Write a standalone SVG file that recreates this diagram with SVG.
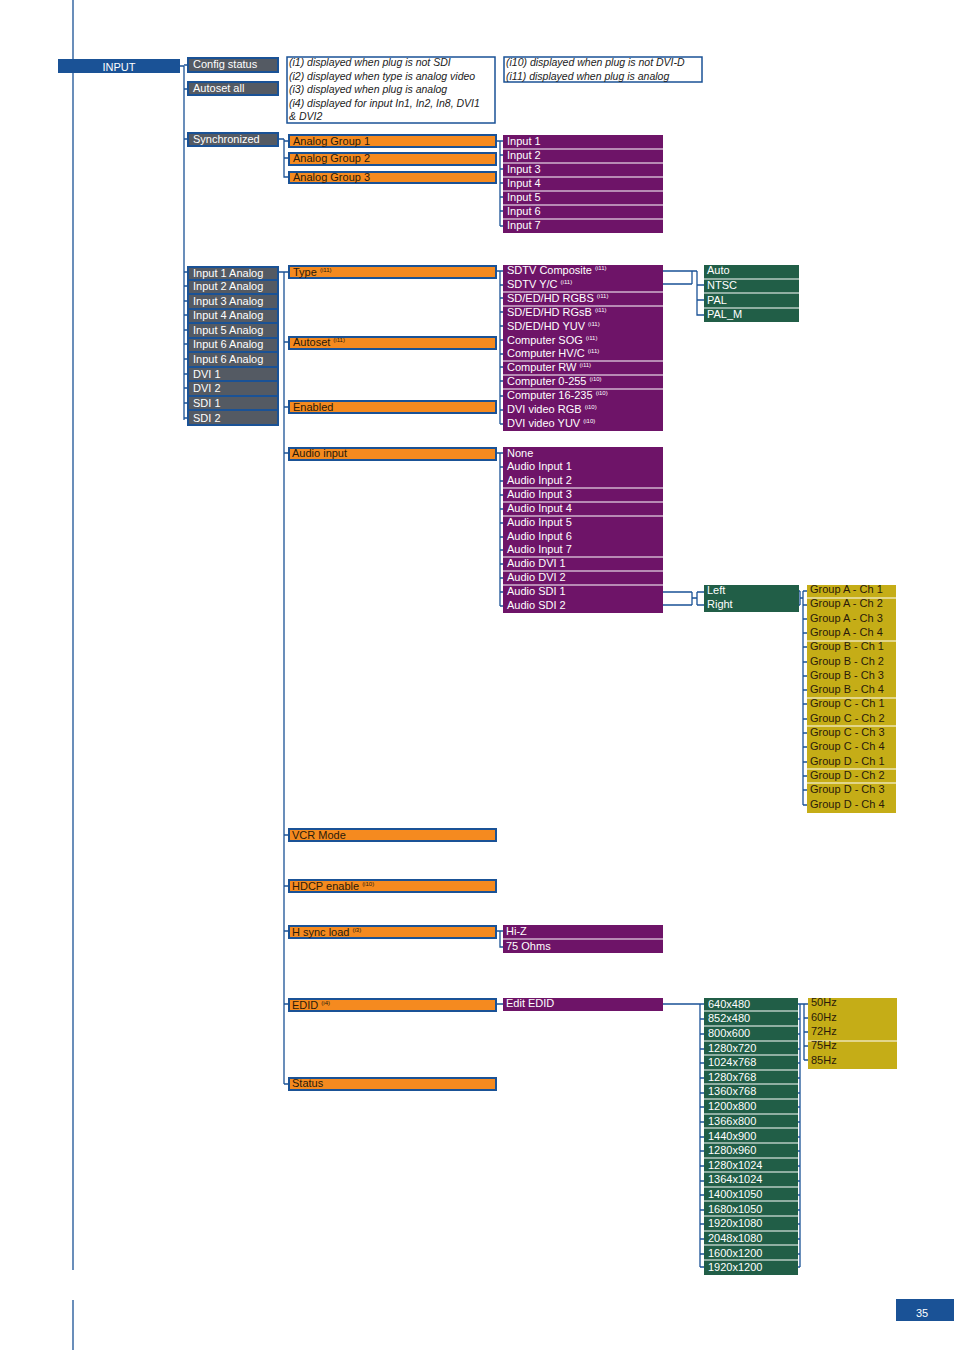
<svg xmlns="http://www.w3.org/2000/svg" width="954" height="1350" viewBox="0 0 954 1350">
<style>
text{font-family:"Liberation Sans",Arial,sans-serif;font-size:11px}
.w{fill:#fff}.d{fill:#2a1a0a}
.ln{stroke:#1a5296;stroke-width:1.3;fill:none}
.g{fill:#545a63;stroke:#1a5296;stroke-width:2}
.o{fill:#f58a1f;stroke:#1a5296;stroke-width:2}
.p{fill:#6e1468}.gr{fill:#215e47}.y{fill:#c5ad17}
.sep{stroke:#fff;stroke-width:1.2}
.note{fill:#fff;stroke:#1a5296;stroke-width:1.5}
.i{font-style:italic;fill:#222;font-size:10.5px}
.s{font-size:6px}
</style>
<g id="connectors" class="ln">
<path d="M73 0V1270M73 1300V1350"/>
<path d="M180 66H184M184 66V420M184 65H187M184 89H187M184 139H187M184 272H187M184 286H187M184 301H187M184 315H187M184 330H187M184 344H187M184 359H187M184 374H187M184 388H187M184 403H187M184 418H187"/>
<path d="M278 139H284M284 139V177H288M284 158H288M284 141H288"/>
<path d="M278 272H284M284 272V1084M284 272H288M284 342H288M284 407H288M284 453H288M284 835H288M284 886H288M284 931H288M284 1004H288M284 1084H288"/>
<path d="M497 141H500M500 141V226M500 141H503M500 155H503M500 169H503M500 183H503M500 197H503M500 211H503M500 226H503"/>
<path d="M497 271H500M500 271V424M500 271H503M500 285H503M500 298H503M500 312H503M500 326H503M500 340H503M500 354H503M500 367H503M500 381H503M500 396H503M500 410H503M500 424H503"/>
<path d="M663 271H692M663 284H692M692 271V284M692 271H697M697 271V315H704M697 285H704M697 300H704"/>
<path d="M497 453H500M500 453V606M500 453H503M500 467H503M500 481H503M500 495H503M500 509H503M500 523H503M500 537H503M500 550H503M500 564H503M500 578H503M500 592H503M500 606H503"/>
<path d="M663 592H692M663 605H692M692 592V605M692 598H697M697 592V605M697 592H704M697 605H704"/>
<path d="M798 591H800M798 605H800M800 591V605M800 598H803M803 591V805M803 591H807M803 605H807M803 619H807M803 633H807M803 647H807M803 662H807M803 676H807M803 690H807M803 704H807M803 719H807M803 733H807M803 747H807M803 762H807M803 776H807M803 790H807M803 805H807"/>
<path d="M497 931H500M500 931V947H503M500 931H503"/>
<path d="M497 1004H503M663 1004H700M700 1004V1267M700 1004H704M700 1019H704M700 1034H704M700 1049H704M700 1063H704M700 1078H704M700 1093H704M700 1107H704M700 1122H704M700 1137H704M700 1151H704M700 1166H704M700 1181H704M700 1195H704M700 1210H704M700 1224H704M700 1239H704M700 1254H704M700 1267H704"/>
<path d="M797 1004H800M797 1019H800M797 1034H800M797 1049H800M797 1063H800M797 1078H800M797 1093H800M797 1107H800M797 1122H800M797 1137H800M797 1151H800M797 1166H800M797 1181H800M797 1195H800M797 1210H800M797 1224H800M797 1239H800M797 1254H800M797 1267H800M800 1004V1267M800 1004H804M804 1004V1060M804 1004H808M804 1018H808M804 1032H808M804 1046H808M804 1060H808"/>
</g>
<g id="input"><rect x="58" y="59" width="122" height="14" fill="#1a5296"/><text x="119" y="71" class="w" text-anchor="middle" font-size="12.5">INPUT</text></g>
<g id="config-status"><rect class="g" x="188" y="58" width="90" height="14"/><text x="193" y="68" class="w">Config status</text></g>
<g id="autoset-all"><rect class="g" x="188" y="82" width="90" height="13"/><text x="193" y="92" class="w">Autoset all</text></g>
<g id="synchronized"><rect class="g" x="188" y="133" width="90" height="13"/><text x="193" y="143" class="w">Synchronized</text></g>
<g id="note1"><rect class="note" x="287" y="57" width="208" height="66"/>
<text class="i" x="289" y="66">(i1) displayed when plug is not SDI</text>
<text class="i" x="289" y="80">(i2) displayed when type is analog video</text>
<text class="i" x="289" y="93">(i3) displayed when plug is analog</text>
<text class="i" x="289" y="107">(i4) displayed for input In1, In2, In8, DVI1</text>
<text class="i" x="289" y="120">&amp; DVI2</text></g>
<g id="note2"><rect class="note" x="504" y="57" width="198" height="25"/>
<text class="i" x="506" y="66">(i10) displayed when plug is not DVI-D</text>
<text class="i" x="506" y="80">(i11) displayed when plug is analog</text></g>
<g id="analog-groups">
<rect class="o" x="289" y="135" width="207" height="12"/><text x="293" y="145" class="d">Analog Group 1</text>
<rect class="o" x="289" y="153" width="207" height="12"/><text x="293" y="162" class="d">Analog Group 2</text>
<rect class="o" x="289" y="172" width="207" height="11"/><text x="293" y="181" class="d">Analog Group 3</text></g>
<g id="inputs-1-7"><rect class="p" x="503" y="135" width="160" height="98"/>
<path class="sep" d="M503 149H663M503 163H663M503 177H663M503 191H663M503 205H663M503 219H663"/>
<text class="w" x="507" y="145">Input 1</text><text class="w" x="507" y="159">Input 2</text><text class="w" x="507" y="173">Input 3</text><text class="w" x="507" y="187">Input 4</text><text class="w" x="507" y="201">Input 5</text><text class="w" x="507" y="215">Input 6</text><text class="w" x="507" y="229">Input 7</text></g>
<g id="input-list"><rect class="g" x="188" y="267" width="90" height="158"/>
<path d="M188 280H278M188 294H278M188 309H278M188 323H278M188 338H278M188 352H278M188 367H278M188 381H278M188 396H278M188 410H278" stroke="#1a5296" stroke-width="2"/>
<text class="w" x="193" y="277">Input 1 Analog</text><text class="w" x="193" y="290">Input 2 Analog</text><text class="w" x="193" y="305">Input 3 Analog</text><text class="w" x="193" y="319">Input 4 Analog</text><text class="w" x="193" y="334">Input 5 Analog</text><text class="w" x="193" y="348">Input 6 Analog</text><text class="w" x="193" y="363">Input 6 Analog</text><text class="w" x="193" y="378">DVI 1</text><text class="w" x="193" y="392">DVI 2</text><text class="w" x="193" y="407">SDI 1</text><text class="w" x="193" y="422">SDI 2</text></g>
<g id="type"><rect class="o" x="289" y="266" width="207" height="12"/><text x="293" y="276" class="d">Type <tspan class="s" dy="-4">(i11)</tspan></text></g>
<g id="autoset"><rect class="o" x="289" y="337" width="207" height="12"/><text x="293" y="346" class="d">Autoset <tspan class="s" dy="-4">(i11)</tspan></text></g>
<g id="enabled"><rect class="o" x="289" y="401" width="207" height="12"/><text x="293" y="411" class="d">Enabled</text></g>
<g id="audio-input"><rect class="o" x="289" y="448" width="207" height="12"/><text x="292" y="457" class="d">Audio input</text></g>
<g id="vcr-mode"><rect class="o" x="289" y="829" width="207" height="12"/><text x="292" y="839" class="d">VCR Mode</text></g>
<g id="hdcp"><rect class="o" x="289" y="880" width="207" height="12"/><text x="292" y="890" class="d">HDCP enable <tspan class="s" dy="-4">(i10)</tspan></text></g>
<g id="hsync"><rect class="o" x="289" y="926" width="207" height="12"/><text x="292" y="936" class="d">H sync load <tspan class="s" dy="-4">(i3)</tspan></text></g>
<g id="edid"><rect class="o" x="289" y="999" width="207" height="12"/><text x="292" y="1009" class="d">EDID <tspan class="s" dy="-4">(i4)</tspan></text></g>
<g id="status"><rect class="o" x="289" y="1078" width="207" height="12"/><text x="292" y="1087" class="d">Status</text></g>
<g id="type-list"><rect class="p" x="503" y="265" width="160" height="166"/>
<path class="sep" d="M503 292H663M503 306H663M503 361H663M503 375H663M503 389H663"/>
<text class="w" x="507" y="274">SDTV Composite <tspan class="s" dy="-4">(i11)</tspan></text>
<text class="w" x="507" y="288">SDTV Y/C <tspan class="s" dy="-4">(i11)</tspan></text>
<text class="w" x="507" y="302">SD/ED/HD RGBS <tspan class="s" dy="-4">(i11)</tspan></text>
<text class="w" x="507" y="316">SD/ED/HD RGsB <tspan class="s" dy="-4">(i11)</tspan></text>
<text class="w" x="507" y="330">SD/ED/HD YUV <tspan class="s" dy="-4">(i11)</tspan></text>
<text class="w" x="507" y="344">Computer SOG <tspan class="s" dy="-4">(i11)</tspan></text>
<text class="w" x="507" y="357">Computer HV/C <tspan class="s" dy="-4">(i11)</tspan></text>
<text class="w" x="507" y="371">Computer RW <tspan class="s" dy="-4">(i11)</tspan></text>
<text class="w" x="507" y="385">Computer 0-255 <tspan class="s" dy="-4">(i10)</tspan></text>
<text class="w" x="507" y="399">Computer 16-235 <tspan class="s" dy="-4">(i10)</tspan></text>
<text class="w" x="507" y="413">DVI video RGB <tspan class="s" dy="-4">(i10)</tspan></text>
<text class="w" x="507" y="427">DVI video YUV <tspan class="s" dy="-4">(i10)</tspan></text></g>
<g id="std-list"><rect class="gr" x="704" y="265" width="95" height="57"/>
<path class="sep" d="M704 279H799M704 293H799M704 308H799"/>
<text class="w" x="707" y="274">Auto</text><text class="w" x="707" y="289">NTSC</text><text class="w" x="707" y="304">PAL</text><text class="w" x="707" y="318">PAL_M</text></g>
<g id="audio-list"><rect class="p" x="503" y="447" width="160" height="166"/>
<path class="sep" d="M503 488H663M503 502H663M503 516H663M503 557H663M503 571H663M503 585H663"/>
<text class="w" x="507" y="457">None</text><text class="w" x="507" y="470">Audio Input 1</text><text class="w" x="507" y="484">Audio Input 2</text><text class="w" x="507" y="498">Audio Input 3</text><text class="w" x="507" y="512">Audio Input 4</text><text class="w" x="507" y="526">Audio Input 5</text><text class="w" x="507" y="540">Audio Input 6</text><text class="w" x="507" y="553">Audio Input 7</text><text class="w" x="507" y="567">Audio DVI 1</text><text class="w" x="507" y="581">Audio DVI 2</text><text class="w" x="507" y="595">Audio SDI 1</text><text class="w" x="507" y="609">Audio SDI 2</text></g>
<g id="left-right"><rect class="gr" x="704" y="585" width="95" height="27"/><text class="w" x="707" y="594">Left</text><text class="w" x="707" y="608">Right</text></g>
<g id="group-list"><rect class="y" x="807" y="585" width="89" height="228"/>
<path class="sep" d="M807 598H896M807 641H896M807 698H896M807 726H896M807 769H896M807 783H896"/>
<g class="d"><text x="810" y="593">Group A - Ch 1</text><text x="810" y="607">Group A - Ch 2</text><text x="810" y="622">Group A - Ch 3</text><text x="810" y="636">Group A - Ch 4</text><text x="810" y="650">Group B - Ch 1</text><text x="810" y="665">Group B - Ch 2</text><text x="810" y="679">Group B - Ch 3</text><text x="810" y="693">Group B - Ch 4</text><text x="810" y="707">Group C - Ch 1</text><text x="810" y="722">Group C - Ch 2</text><text x="810" y="736">Group C - Ch 3</text><text x="810" y="750">Group C - Ch 4</text><text x="810" y="765">Group D - Ch 1</text><text x="810" y="779">Group D - Ch 2</text><text x="810" y="793">Group D - Ch 3</text><text x="810" y="808">Group D - Ch 4</text></g></g>
<g id="hsync-list"><rect class="p" x="503" y="925" width="160" height="28"/><path class="sep" d="M503 939H663"/><text class="w" x="506" y="935">Hi-Z</text><text class="w" x="506" y="950">75 Ohms</text></g>
<g id="edit-edid"><rect class="p" x="503" y="998" width="160" height="13"/><text class="w" x="506" y="1007">Edit EDID</text></g>
<g id="res-list"><rect class="gr" x="704" y="998" width="94" height="277"/>
<path class="sep" d="M704 1011H798M704 1026H798M704 1041H798M704 1055H798M704 1070H798M704 1084H798M704 1099H798M704 1114H798M704 1128H798M704 1143H798M704 1158H798M704 1172H798M704 1187H798M704 1201H798M704 1216H798M704 1231H798M704 1245H798M704 1260H798"/>
<g class="w"><text x="708" y="1008">640x480</text><text x="708" y="1022">852x480</text><text x="708" y="1037">800x600</text><text x="708" y="1052">1280x720</text><text x="708" y="1066">1024x768</text><text x="708" y="1081">1280x768</text><text x="708" y="1095">1360x768</text><text x="708" y="1110">1200x800</text><text x="708" y="1125">1366x800</text><text x="708" y="1140">1440x900</text><text x="708" y="1154">1280x960</text><text x="708" y="1169">1280x1024</text><text x="708" y="1183">1364x1024</text><text x="708" y="1198">1400x1050</text><text x="708" y="1213">1680x1050</text><text x="708" y="1227">1920x1080</text><text x="708" y="1242">2048x1080</text><text x="708" y="1257">1600x1200</text><text x="708" y="1271">1920x1200</text></g></g>
<g id="hz-list"><rect class="y" x="808" y="998" width="89" height="71"/><path class="sep" d="M808 1041H897"/>
<g class="d"><text x="811" y="1006">50Hz</text><text x="811" y="1021">60Hz</text><text x="811" y="1035">72Hz</text><text x="811" y="1049">75Hz</text><text x="811" y="1064">85Hz</text></g></g>
<g id="page"><rect x="896" y="1299" width="58" height="22" fill="#1a5296"/><text x="922" y="1317" class="w" font-size="17" text-anchor="middle">35</text></g>
</svg>
